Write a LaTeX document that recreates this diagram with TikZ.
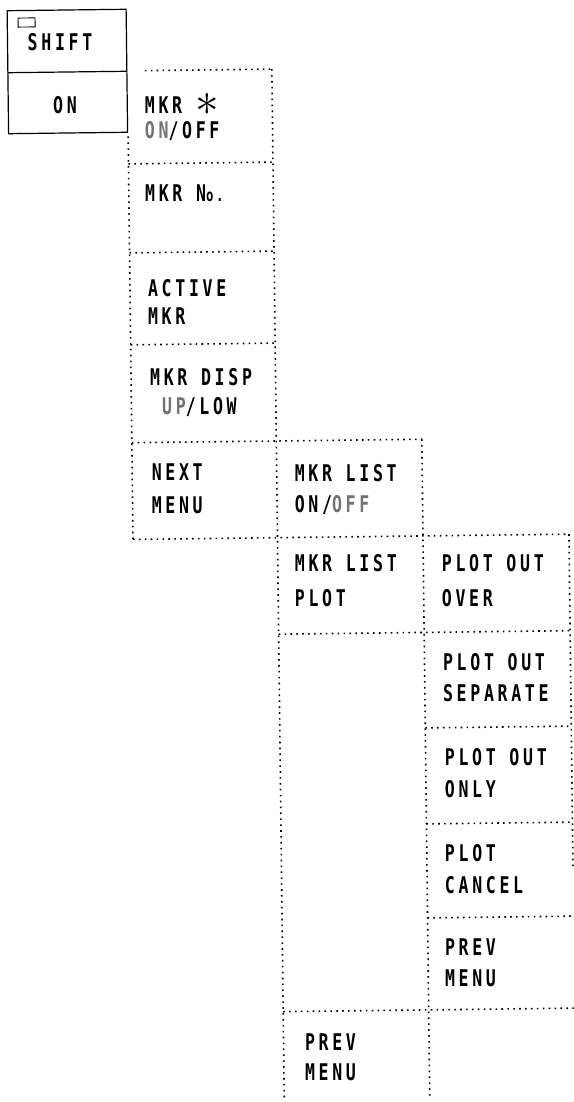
\documentclass[tikz,border=0pt]{standalone}
\usepackage{fontspec}
\usepackage{graphicx}
\newfontfamily\lcd[FakeStretch=0.72,LetterSpace=16,UprightFont=*,BoldFont=* Bold]{DejaVu Sans Mono}
\definecolor{selgray}{gray}{0.45}
\newcommand{\selt}[1]{\textcolor{selgray}{#1}}
\begin{document}
\begin{tikzpicture}[x=1pt,y=-1pt,
  dotl/.style={line width=1.6pt, dash pattern=on 1.6pt off 4.3pt},
  solidbox/.style={line width=1.2pt},
  lbl/.style={anchor=north west, inner sep=0pt, align=left, font=\lcd\bfseries\fontsize{23}{31}\selectfont},
  lblc/.style={anchor=center, inner sep=0pt, font=\lcd\bfseries\fontsize{23}{31}\selectfont}]
\useasboundingbox (0,0) rectangle (573,1102);
\begin{scope}[rotate around={0.69:(0,0)}]
  % SHIFT key
  \draw[solidbox] (7,10.8) rectangle (126,133.8);
  \draw[solidbox] (7,72.8) -- (126,72.8);
  \draw[line width=0.9pt] (17.8,18.3) rectangle (34.8,27.3);
  \node[lblc] (shift) at (59.5,42.7) {SHIFT};
  \node[lblc] (on) at (63.7,105.8) {ON};
  % dotted menu grid: vertical lines
  \draw[dotl] (126.5,138) -- (126.5,541);
  \draw[dotl] (271,72.4) -- (271,1103);
  \draw[dotl] (416.5,444.3) -- (416.5,1103);
  \draw[dotl] (562.5,541) -- (562.5,877);
  % horizontal lines
  \draw[dotl] (144,72.4) -- (271,72.4);
  \draw[dotl] (126.5,165.4) -- (271,165.4);
  \draw[dotl] (126.5,254.4) -- (271,254.4);
  \draw[dotl] (126.5,346.4) -- (271,346.4);
  \draw[dotl] (126.5,444.3) -- (416.5,444.3);
  \draw[dotl] (126.5,541) -- (562.5,541);
  \draw[dotl] (271,637.5) -- (562.5,637.5);
  \draw[dotl] (416.5,733) -- (562.5,733);
  \draw[dotl] (416.5,829) -- (562.5,829);
  \draw[dotl] (416.5,923) -- (562.5,923);
  \draw[dotl] (271,1015) -- (562.5,1015);
  % column 1
  \node[lbl] (m1) at (143.6,95.2) {MKR \raisebox{-2pt}{\scalebox{1.9}{$\ast$}}\\[-6pt]\selt{ON}/OFF};
  \node[lbl] (m2) at (142.7,186.2) {MKR N{\fontsize{17}{17}\selectfont o.}};
  \node[lbl] (m3) at (144.5,281.3) {ACTIVE\\[-3pt]MKR};
  \node[lbl] (m4) at (145.5,370.3) {MKR DISP\\[-2pt]\hspace*{12pt}\selt{UP}/LOW};
  \node[lbl] (m5) at (146,465.3) {NEXT\\[2pt]MENU};
  % column 2
  \node[lbl] (n1) at (289,468) {MKR LIST\\ON/\selt{OFF}};
  \node[lbl] (n2) at (288,558) {MKR LIST\\[4pt]PLOT};
  \node[lbl] (n3) at (292.4,1037.2) {PREV\\[-1pt]MENU};
  % column 3
  \node[lbl] (p1) at (435,559.8) {PLOT OUT\\[4pt]OVER};
  \node[lbl] (p2) at (435,658.8) {PLOT OUT\\SEPARATE};
  \node[lbl] (p3) at (435.7,753.8) {PLOT OUT\\[1pt]ONLY};
  \node[lbl] (p4) at (434.6,849.8) {PLOT\\[1pt]CANCEL};
  \node[lbl] (p5) at (433.5,943.8) {PREV\\MENU};
\end{scope}
\end{tikzpicture}
\end{document}
